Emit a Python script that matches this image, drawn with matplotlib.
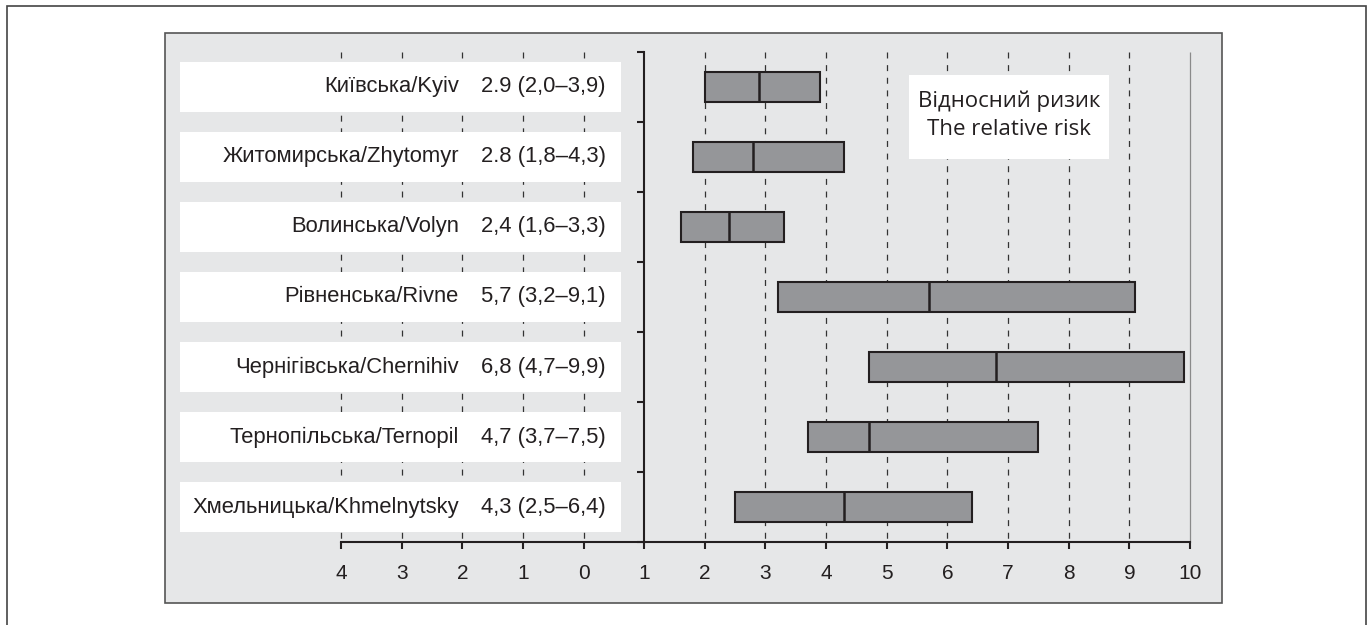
import matplotlib
matplotlib.use("Agg")
import matplotlib.pyplot as plt
from matplotlib.patches import Rectangle

plt.rcParams["font.family"] = ["Liberation Sans", "DejaVu Sans"]
plt.rcParams["lines.scale_dashes"] = False

regions = [
    "Київська/Kyiv",
    "Житомирська/Zhytomyr",
    "Волинська/Volyn",
    "Рівненська/Rivne",
    "Чернігівська/Chernihiv",
    "Тернопільська/Ternopil",
    "Хмельницька/Khmelnytsky",
]
value_labels = [
    "2.9 (2,0–3,9)",
    "2.8 (1,8–4,3)",
    "2,4 (1,6–3,3)",
    "5,7 (3,2–9,1)",
    "6,8 (4,7–9,9)",
    "4,7 (3,7–7,5)",
    "4,3 (2,5–6,4)",
]
rr = [2.9, 2.8, 2.4, 5.7, 6.8, 4.7, 4.3]
ci_low = [2.0, 1.8, 1.6, 3.2, 4.7, 3.7, 2.5]
ci_high = [3.9, 4.3, 3.3, 9.1, 9.9, 7.5, 6.4]

tick_pos = list(range(-4, 11))
tick_labels = ["4", "3", "2", "1", "0", "1", "2", "3", "4", "5", "6", "7", "8", "9", "10"]

panel_bg = "#e6e7e8"
bar_fill = "#959699"
dark = "#231f20"

fig = plt.figure(figsize=(13.72, 6.25), dpi=100)

# outer frame (bottom edge is cut off in the original)
fig.patches.append(Rectangle((7 / 1372, -0.05), (1366 - 7) / 1372, 1.05 - 6 / 625,
                             transform=fig.transFigure, fill=False,
                             ec="#444444", lw=1.2))

ax = fig.add_axes([165 / 1372, 1 - 603 / 625, (1222 - 165) / 1372, (603 - 33) / 625])
ax.set_facecolor(panel_bg)
ax.set_xlim(-6.902, 10.528)
ax.set_ylim(7.371, -0.771)

# panel border
ax.add_patch(Rectangle((0, 0), 1, 1, transform=ax.transAxes, fill=False,
                       ec="#555555", lw=1.2, clip_on=False, zorder=10))

# spines used as the axes
for s in ["top", "right"]:
    ax.spines[s].set_visible(False)
ax.spines["bottom"].set_position(("data", 6.5))
ax.spines["bottom"].set_bounds(-4, 10)
ax.spines["bottom"].set_linewidth(1.5)
ax.spines["bottom"].set_color(dark)
ax.spines["left"].set_position(("data", 1))
ax.spines["left"].set_bounds(-0.5, 6.5)
ax.spines["left"].set_linewidth(1.5)
ax.spines["left"].set_color(dark)

ax.set_xticks(tick_pos)
ax.set_xticklabels(tick_labels)
ax.set_yticks([i - 0.5 for i in range(len(regions) + 1)])
ax.set_yticklabels([])
ax.tick_params(axis="x", direction="out", length=5, width=1.5, color=dark,
               labelsize=15, labelcolor=dark, pad=11)
ax.tick_params(axis="y", direction="out", length=5, width=1.5, color=dark)

# vertical grid
for t in tick_pos:
    if t == 1:
        continue
    if t == 10:
        ax.vlines(t, -0.5, 6.5, color="#8a8a8a", lw=0.9, zorder=1)
    else:
        ax.vlines(t, -0.5, 6.5, color="#333333", lw=0.9,
                  linestyles=[(0, (4.3, 4.8))], zorder=1)

# label boxes and texts
for i, (name, val) in enumerate(zip(regions, value_labels)):
    ax.add_patch(Rectangle((-6.655, i - 0.357), 0.617 + 6.655, 0.714,
                           fc="white", ec="none", zorder=2))
    ax.text(-2.054, i, name, ha="right", va="center", fontsize=15.8,
            color=dark, zorder=3)
    ax.text(0.37, i, val, ha="right", va="center", fontsize=15.8,
            color=dark, zorder=3)

# interval bars with median line
h = 0.415
ax.barh(range(len(regions)), [hi - lo for lo, hi in zip(ci_low, ci_high)],
        left=ci_low, height=h, color=bar_fill, edgecolor=dark, linewidth=1.5,
        zorder=4)
ax.vlines(rr, [i - h / 2 for i in range(len(rr))], [i + h / 2 for i in range(len(rr))],
          color=dark, lw=1.8, zorder=5)

# caption box
ax.add_patch(Rectangle((5.367, -0.171), 8.665 - 5.367, 1.2, fc="white",
                       ec="none", zorder=2))
ax.text(7.016, 0.40, "Відносний ризик\nThe relative risk", ha="center",
        va="center", fontsize=16, color=dark, linespacing=1.42, zorder=3,
        family=["Open Sans", "DejaVu Sans"], fontstretch="normal",
        fontweight="normal")

fig.savefig("out.png", dpi=100)
